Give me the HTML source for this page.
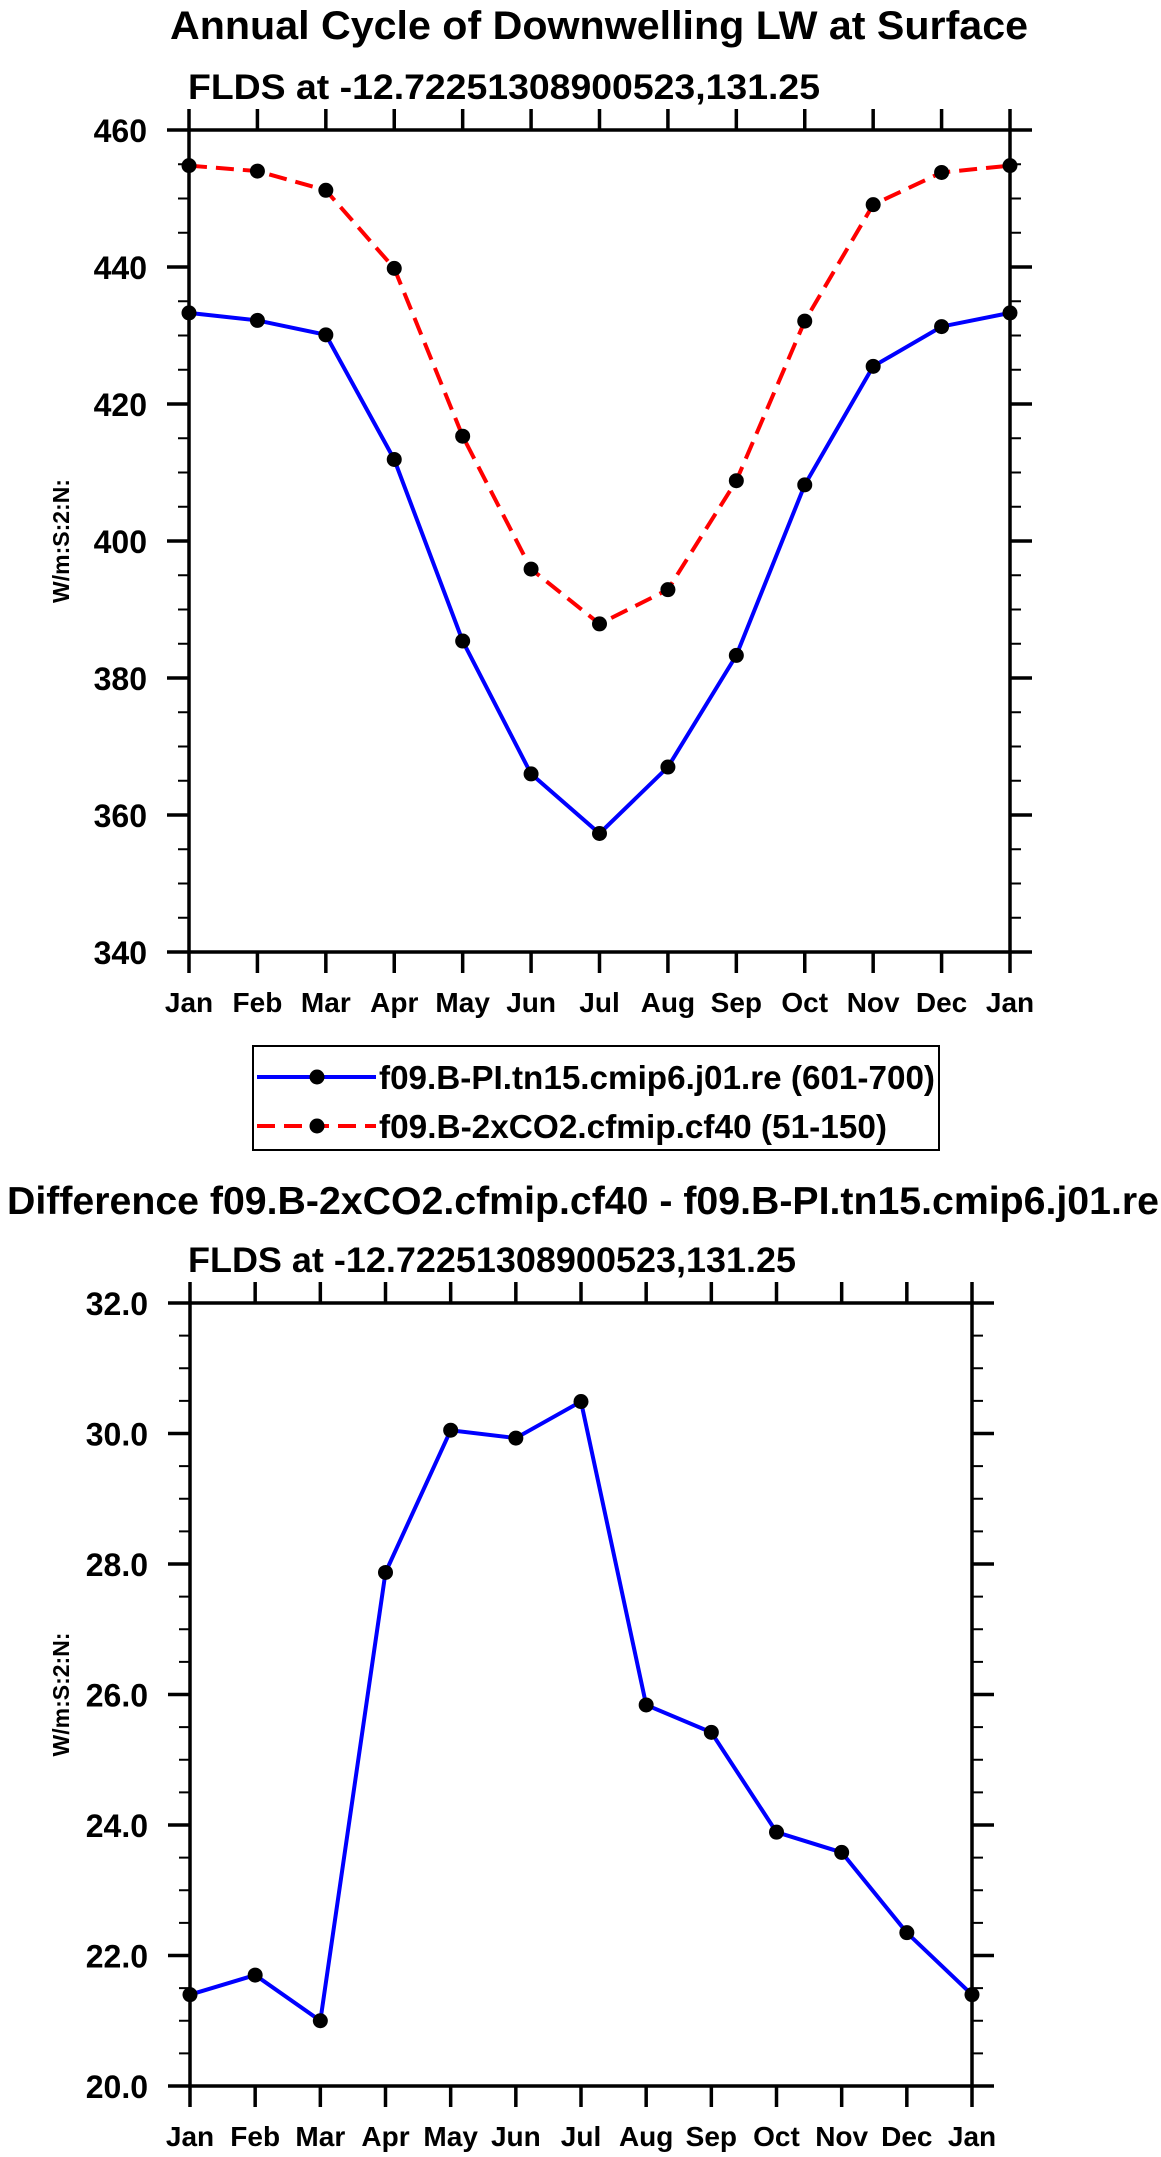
<!DOCTYPE html>
<html><head><meta charset="utf-8"><style>
body{margin:0;background:#fff;}
svg{display:block;font-family:"Liberation Sans",sans-serif;font-weight:bold;}
</style></head><body>
<svg width="1161" height="2157" viewBox="0 0 1161 2157">
<text x="170" y="39" font-size="40" textLength="858" lengthAdjust="spacingAndGlyphs">Annual Cycle of Downwelling LW at Surface</text>
<text x="188" y="99" font-size="35" textLength="632" lengthAdjust="spacingAndGlyphs">FLDS at -12.72251308900523,131.25</text>
<g id="top"></g>
<g>
<rect x="253" y="1046" width="686" height="104" fill="none" stroke="#000" stroke-width="2"/>
<g>
<line x1="257" y1="1077" x2="376" y2="1077" stroke="#00f" stroke-width="4"/>
<circle cx="317" cy="1077" r="7.5" fill="#000"/>
<text x="379" y="1089" font-size="33" textLength="556" lengthAdjust="spacingAndGlyphs">f09.B-PI.tn15.cmip6.j01.re (601-700)</text></g>
<g>
<line x1="257" y1="1126" x2="376" y2="1126" stroke="#f00" stroke-width="4" stroke-dasharray="18,9"/>
<circle cx="317" cy="1126" r="7.5" fill="#000"/>
<text x="379" y="1138" font-size="33" textLength="508" lengthAdjust="spacingAndGlyphs">f09.B-2xCO2.cfmip.cf40 (51-150)</text></g>
</g>
<text x="7" y="1214" font-size="39" textLength="1152" lengthAdjust="spacingAndGlyphs">Difference f09.B-2xCO2.cfmip.cf40 - f09.B-PI.tn15.cmip6.j01.re</text>
<text x="188" y="1272" font-size="35" textLength="608" lengthAdjust="spacingAndGlyphs">FLDS at -12.72251308900523,131.25</text>
<g id="bot"></g>
</svg>
<script>
const months = ["Jan","Feb","Mar","Apr","May","Jun","Jul","Aug","Sep","Oct","Nov","Dec","Jan"];
const piValues = [433.3,432.2,430.1,411.9,385.4,366.0,357.3,367.0,383.3,408.2,425.5,431.3,433.3];
const co2Values = [454.8,454.0,451.2,439.8,415.3,395.9,387.9,392.9,408.8,432.1,449.1,453.8,454.8];
const diffValues = [21.4,21.7,21.0,27.87,30.05,29.93,30.49,25.84,25.42,23.89,23.58,22.35,21.4];
const topTicks = ["340","360","380","400","420","440","460"];
const botTicks = ["20.0","22.0","24.0","26.0","28.0","30.0","32.0"];
const NS="http://www.w3.org/2000/svg";
function mk(p,tag,a){const e=document.createElementNS(NS,tag);for(const k in a)e.setAttribute(k,a[k]);p.appendChild(e);return e;}
function chart(g,L,R,T,B,ymin,ymax,ticks,minorStep,series){
  const xs=i=>L+(R-L)*i/(months.length-1);
  const ys=v=>B-(B-T)*(v-ymin)/(ymax-ymin);
  for(let v=ymin;v<=ymax+1e-9;v+=minorStep){
    const y=ys(v);
    let t=mk(g,'line',{x1:L-11,y1:y,x2:L,y2:y,stroke:'#000','stroke-width':2});
    
    t=mk(g,'line',{x1:R,y1:y,x2:R+11,y2:y,stroke:'#000','stroke-width':2});
    
  }
  ticks.forEach(s=>{const y=ys(parseFloat(s));
    let t=mk(g,'line',{x1:L-22,y1:y,x2:L,y2:y,stroke:'#000','stroke-width':3.5});
    
    t=mk(g,'line',{x1:R,y1:y,x2:R+22,y2:y,stroke:'#000','stroke-width':3.5});
    
    const tx=mk(g,'text',{x:L-42,y:y+12,'font-size':32,'text-anchor':'end'});tx.textContent=s;
    
  });
  months.forEach((m,i)=>{const x=xs(i);
    let t=mk(g,'line',{x1:x,y1:B,x2:x,y2:B+21,stroke:'#000','stroke-width':3.5});
    
    t=mk(g,'line',{x1:x,y1:T-21,x2:x,y2:T,stroke:'#000','stroke-width':3.5});
    
    const tx=mk(g,'text',{x:x,y:B+60,'font-size':28,'text-anchor':'middle'});tx.textContent=m;
    
  });
  const fr=mk(g,'rect',{x:L,y:T,width:R-L,height:B-T,fill:'none',stroke:'#000','stroke-width':3.5});
  
  const yt=mk(g,'text',{x:0,y:0,'font-size':23,'text-anchor':'middle',transform:`translate(69,${(T+B)/2}) rotate(-90)`});
  yt.textContent='W/m:S:2:N:';
  
  series.forEach(s=>{
    const pl=mk(g,'polyline',{points:s.vals.map((v,i)=>xs(i)+','+ys(v)).join(' '),fill:'none',stroke:s.color,'stroke-width':4,'stroke-dasharray':s.dash||'none'});
    
    s.vals.forEach((v,i)=>{const c=mk(g,'circle',{cx:xs(i),cy:ys(v),r:7.5,fill:'#000'});
      });
  });
}
chart(document.getElementById('top'),189,1010,130,952,340,460,topTicks,5,[
  {vals:co2Values,color:'#f00',dash:'18,9',name:'co2'},
  {vals:piValues,color:'#00f',name:'pi'}]);
chart(document.getElementById('bot'),190,972,1303,2086,20,32,botTicks,0.5,[
  {vals:diffValues,color:'#00f',name:'diff'}]);
</script>
</body></html>
